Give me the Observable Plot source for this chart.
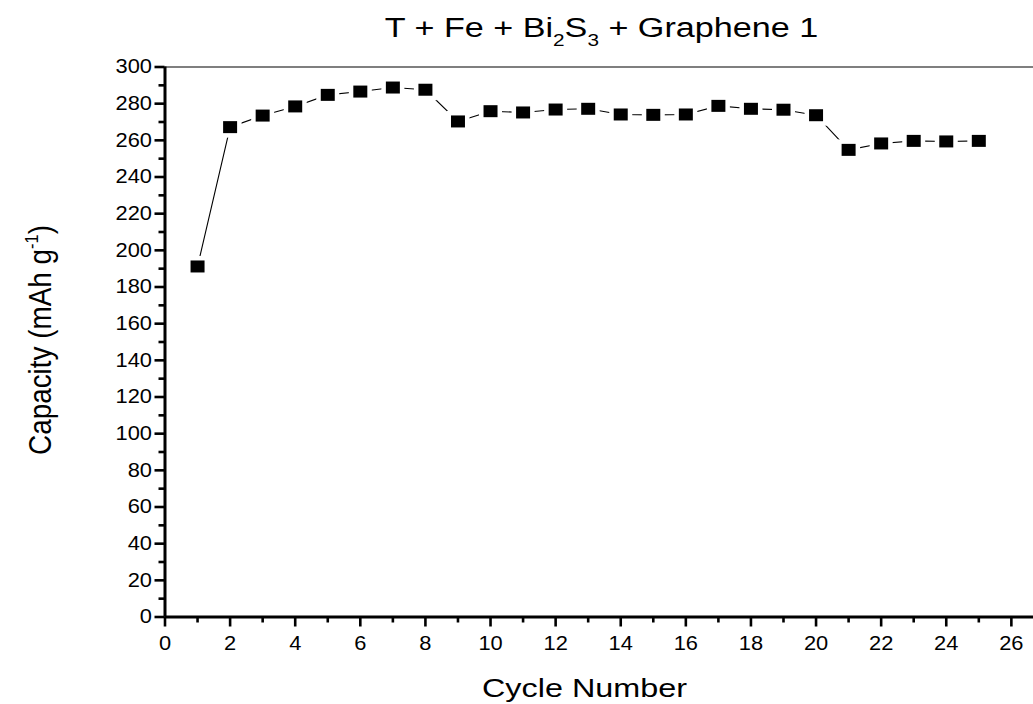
<!DOCTYPE html>
<html>
<head>
<meta charset="utf-8">
<script src="https://cdn.jsdelivr.net/npm/d3@7"></script>
<script src="https://cdn.jsdelivr.net/npm/@observablehq/plot@0.6"></script>
<style>
  html, body { margin: 0; padding: 0; background: #fff; }
  #chart { width: 1033px; height: 704px; }
</style>
</head>
<body>
<div id="chart"></div>
<script>
const cycles = [1, 2, 3, 4, 5, 6, 7, 8, 9, 10, 11, 12, 13, 14, 15, 16, 17, 18, 19, 20, 21, 22, 23, 24, 25];
const capacity = [191.2, 267.2, 273.5, 278.5, 284.8, 286.6, 288.8, 287.6, 270.3, 275.9, 275.2, 276.8, 277.2,
                  274.1, 273.9, 274.1, 278.8, 277.2, 276.7, 273.7, 254.8, 258.3, 259.7, 259.4, 259.7];
const xMajorTicks = [0, 2, 4, 6, 8, 10, 12, 14, 16, 18, 20, 22, 24, 26];
const xMinorTicks = [1, 3, 5, 7, 9, 11, 13, 15, 17, 19, 21, 23, 25];
const yMajorTicks = [0, 20, 40, 60, 80, 100, 120, 140, 160, 180, 200, 220, 240, 260, 280, 300];
const yMinorTicks = [10, 30, 50, 70, 90, 110, 130, 150, 170, 190, 210, 230, 250, 270, 290];
const titleParts = [["T + Fe + Bi", false], ["2", true], ["S", false], ["3", true], [" + Graphene 1", false]];
const xLabel = "Cycle Number";
const yLabel = "Capacity (mAh g";
const yLabelSup = "-1";

const data = cycles.map((c, i) => ({cycle: c, cap: capacity[i]}));

const haloSymbol = {draw(ctx) { ctx.rect(-11.5, -10.5, 23, 21); }};
const boxSymbol = {draw(ctx) { ctx.rect(-7, -6, 14, 12); }};

const font = "'Liberation Sans', Arial, Helvetica, sans-serif";

const W = 1033, H = 704, mL = 164.5, mR = 0, mT = 66.5, mB = 87.5;
const plotW = W - mL - mR, plotH = H - mT - mB;
const majorLen = 10, minorLen = 6, tickW = 2.6;

const svg = Plot.plot({
  width: W,
  height: H,
  marginLeft: mL,
  marginRight: mR,
  marginTop: mT,
  marginBottom: mB,
  x: {domain: [0, 26.68]},
  y: {domain: [0, 300]},
  style: {fontFamily: font, fontSize: "19.5px", color: "#000", background: "#fff", overflow: "visible"},
  marks: [
    Plot.ruleY([300], {stroke: "#555", strokeWidth: 1.3}),
    Plot.line(data, {x: "cycle", y: "cap", stroke: "#000", strokeWidth: 1.1}),
    Plot.dot(data, {x: "cycle", y: "cap", symbol: haloSymbol, fill: "#fff", stroke: "none"}),
    Plot.dot(data, {x: "cycle", y: "cap", symbol: boxSymbol, fill: "#000", stroke: "none"}),
    // tick labels only (ticks drawn below as explicit tick marks)
    Plot.axisX({ticks: xMajorTicks, tickSize: 0, tickPadding: majorLen + 9, label: null}),
    Plot.axisY({ticks: yMajorTicks, tickSize: 0, tickPadding: majorLen + 3, label: null}),
    // outward ticks
    Plot.tickX(xMajorTicks, {x: d => d, insetTop: plotH - majorLen, dy: majorLen, stroke: "#000", strokeWidth: tickW}),
    Plot.tickX(xMinorTicks, {x: d => d, insetTop: plotH - minorLen, dy: minorLen, stroke: "#000", strokeWidth: tickW}),
    Plot.tickY(yMajorTicks, {y: d => d, insetRight: plotW - majorLen, dx: -majorLen, stroke: "#000", strokeWidth: tickW}),
    Plot.tickY(yMinorTicks, {y: d => d, insetRight: plotW - minorLen, dx: -minorLen, stroke: "#000", strokeWidth: tickW}),
    Plot.ruleX([0], {stroke: "#000", strokeWidth: 3}),
    Plot.ruleY([0], {stroke: "#000", strokeWidth: 3})
  ]
});

document.getElementById("chart").appendChild(svg);

// horizontal stretch of tick labels (the reference's glyphs are wide)
svg.querySelectorAll("text").forEach(t => {
  if (!t.textContent) return;
  const len = t.getComputedTextLength();
  t.setAttribute("textLength", (len * 1.12).toFixed(2));
  t.setAttribute("lengthAdjust", "spacingAndGlyphs");
});

const s = d3.select(svg);

// Title with subscripts
const tg = s.append("g").attr("transform", "translate(601.5,37) scale(1.22,1)");
const tt = tg.append("text")
  .attr("text-anchor", "middle")
  .attr("font-family", font)
  .attr("font-size", 28)
  .attr("fill", "#000");
let shifted = false;
titleParts.forEach(([str, sub]) => {
  const sp = tt.append("tspan").text(str);
  if (sub && !shifted) { sp.attr("dy", 9).attr("font-size", 17); shifted = true; }
  else if (sub) { sp.attr("font-size", 17); }
  else if (shifted) { sp.attr("dy", -9); shifted = false; }
});

// X label
s.append("text")
  .attr("x", 584.5).attr("y", 697)
  .attr("text-anchor", "middle")
  .attr("font-family", font)
  .attr("font-size", 26)
  .attr("textLength", 205)
  .attr("lengthAdjust", "spacingAndGlyphs")
  .attr("fill", "#000")
  .text(xLabel);

// Y label with superscript
const yg = s.append("g").attr("transform", "translate(51,340) scale(1.2,1) rotate(-90)");
const yt = yg.append("text")
  .attr("text-anchor", "middle")
  .attr("font-family", font)
  .attr("font-size", 25.5)
  .attr("textLength", 230)
  .attr("lengthAdjust", "spacingAndGlyphs")
  .attr("fill", "#000");
yt.append("tspan").text(yLabel);
yt.append("tspan").attr("font-size", 15).attr("dy", -11).text(yLabelSup);
yt.append("tspan").attr("dy", 11).text(")");
</script>
</body>
</html>
